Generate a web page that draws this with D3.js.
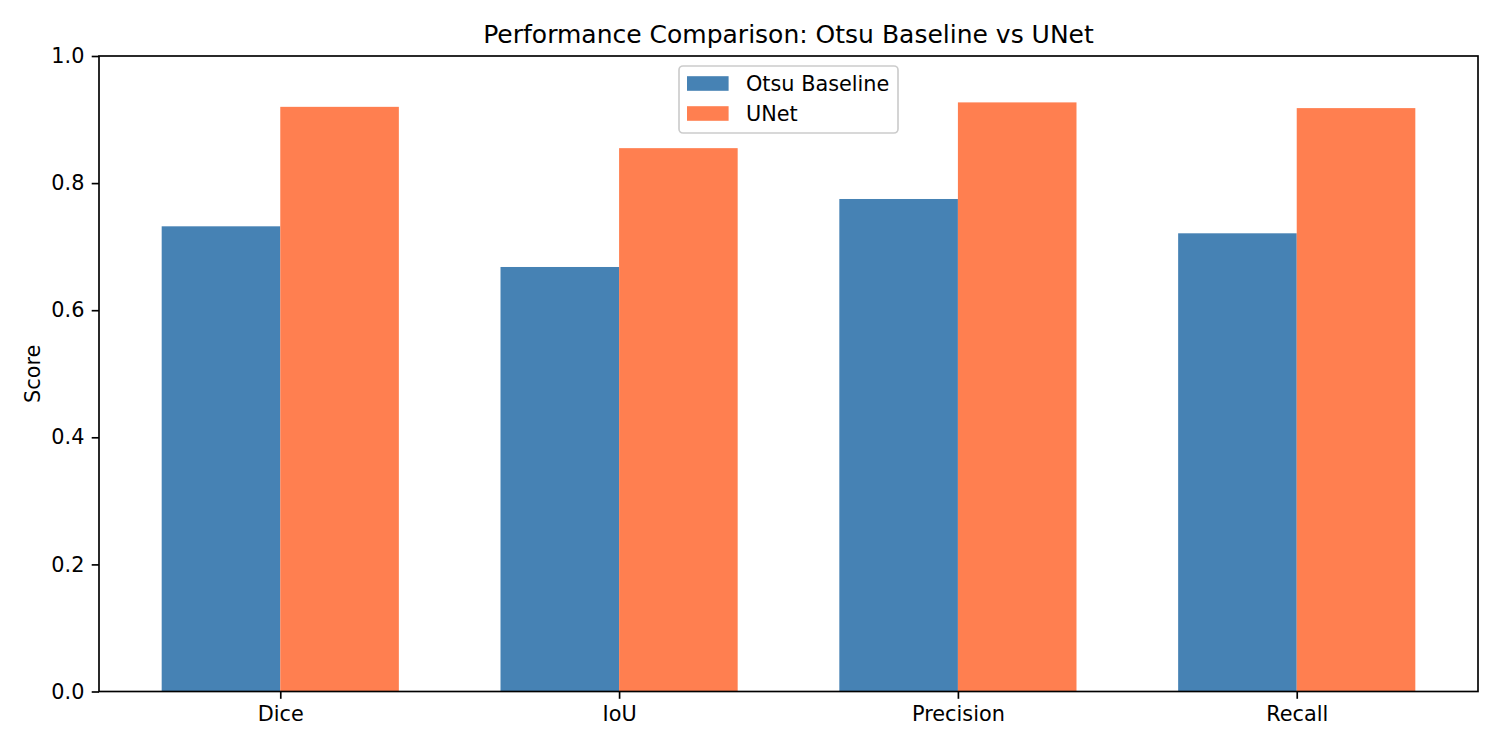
<!DOCTYPE html>
<html>
<head>
<meta charset="utf-8">
<script src="https://cdn.jsdelivr.net/npm/d3@7"></script>
<style>
  body { margin: 0; background: #fff; }
  svg { font-family: "DejaVu Sans", sans-serif; }
</style>
</head>
<body>
<div id="chart"></div>
<script>
var metrics = ["Dice", "IoU", "Precision", "Recall"];
var seriesNames = ["Otsu Baseline", "UNet"];
var otsu = [0.732, 0.668, 0.775, 0.721];
var unet = [0.920, 0.855, 0.927, 0.918];
var colors = ["#4682B4", "#FF7F50"];
var yTicks = [0.0, 0.2, 0.4, 0.6, 0.8, 1.0];

var width = 1500, height = 750;
var margin = { top: 56, right: 22, bottom: 58.5, left: 99 };
var plotW = width - margin.left - margin.right;
var plotH = height - margin.top - margin.bottom;
var barW = 0.35;

var svg = d3.select("#chart").append("svg")
  .attr("width", width)
  .attr("height", height);

var g = svg.append("g").attr("transform", `translate(${margin.left},${margin.top})`);

// matplotlib style: numeric x with 5% margins
var xScale = d3.scaleLinear()
  .domain([-barW - 0.185, metrics.length - 1 + barW + 0.185])
  .range([0, plotW]);

var yScale = d3.scaleLinear().domain([0, 1]).range([plotH, 0]);

var series = [otsu, unet];
series.forEach(function (vals, s) {
  g.selectAll("rect.s" + s)
    .data(vals)
    .enter()
    .append("rect")
    .attr("class", "s" + s)
    .attr("fill", colors[s])
    .attr("x", (d, i) => xScale(i + (s === 0 ? -barW : 0)))
    .attr("width", xScale(barW) - xScale(0))
    .attr("y", d => yScale(d))
    .attr("height", d => plotH - yScale(d));
});

// axes
var xAxis = d3.axisBottom(xScale)
  .tickValues(d3.range(metrics.length))
  .tickFormat(i => metrics[i])
  .tickSizeInner(7.3).tickSizeOuter(0).tickPadding(7.3);
var yAxis = d3.axisLeft(yScale)
  .tickValues(yTicks)
  .tickFormat(d3.format(".1f"))
  .tickSizeInner(7.3).tickSizeOuter(0).tickPadding(7.3);

var xg = g.append("g").attr("transform", `translate(0,${plotH})`).call(xAxis);
var yg = g.append("g").call(yAxis);
[xg, yg].forEach(function (a) {
  a.select(".domain").remove();
  a.selectAll("line").attr("stroke", "#000").attr("stroke-width", 1.67);
  a.selectAll("text").attr("font-size", 20.8).attr("fill", "#000")
    .attr("font-family", "DejaVu Sans");
});

// frame
g.append("rect")
  .attr("width", plotW).attr("height", plotH)
  .attr("fill", "none").attr("stroke", "#000").attr("stroke-width", 1.67);

// title and label
svg.append("text")
  .attr("x", margin.left + plotW / 2).attr("y", 43)
  .attr("text-anchor", "middle").attr("font-size", 25)
  .text("Performance Comparison: Otsu Baseline vs UNet");

svg.append("text")
  .attr("transform", `translate(40,${margin.top + plotH / 2}) rotate(-90)`)
  .attr("text-anchor", "middle").attr("font-size", 20.8)
  .text("Score");

// legend
var leg = svg.append("g").attr("transform", "translate(679,66)");
leg.append("rect")
  .attr("width", 219).attr("height", 67).attr("rx", 4)
  .attr("fill", "#fff").attr("fill-opacity", 0.8)
  .attr("stroke", "#ccc").attr("stroke-width", 1.67);
seriesNames.forEach(function (name, i) {
  var row = leg.append("g").attr("transform", `translate(8,${17.5 + i * 30})`);
  row.append("rect").attr("x", 0).attr("y", -7.3)
    .attr("width", 41.6).attr("height", 14.6).attr("fill", colors[i]);
  row.append("text").attr("x", 59).attr("y", 7.5)
    .attr("font-size", 20.8).text(name);
});
</script>
</body>
</html>
